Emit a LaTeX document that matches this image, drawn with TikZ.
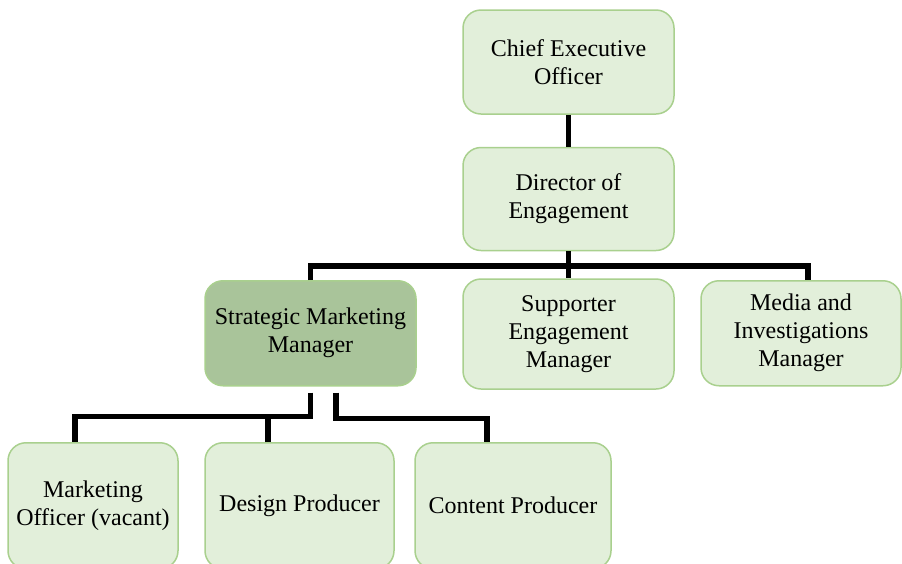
\documentclass[tikz,border=0pt]{standalone}
\usepackage{fontspec}
\setmainfont{Liberation Serif}
\usepackage{xcolor}
\usepackage{tikz}
\usetikzlibrary{positioning}

\definecolor{postfill}{HTML}{E2EFDA}
\definecolor{postdraw}{HTML}{A9D08E}
\definecolor{leadfill}{HTML}{A9C49A}

\tikzset{
    post/.style={rectangle, draw=postdraw, line width=1.5pt, fill=postfill, rounded corners=18pt,
        align=center, inner sep=4pt, font=\fontsize{24}{28}\selectfont},
    lead/.style={post, fill=leadfill},
    link/.style={line width=5.5pt, black},
}

\begin{document}
\begin{tikzpicture}[x=1pt, y=-1pt]
    \path[use as bounding box] (0,0) rectangle (902,563);
    \clip (0,0) rectangle (902,563);

    \node (ceo) [post, minimum width=211pt, minimum height=104pt] at (568.5,62) {Chief Executive\\Officer};
    \node (director) [post, minimum width=211pt, minimum height=103pt, below=32pt of ceo] {Director of\\Engagement};
    \node (supporter) [post, minimum width=211pt, minimum height=110pt, below=27pt of director] {Supporter\\Engagement\\Manager};
    \node (strategic) [lead, minimum width=211pt, minimum height=105pt, anchor=north] at (310.5,280) {Strategic Marketing\\Manager};
    \node (media) [post, minimum width=200pt, minimum height=105pt, anchor=north] at (801,280) {Media and\\Investigations\\Manager};

    \node (officer) [post, minimum width=170pt, minimum height=126pt, anchor=north] at (93,442) {Marketing\\Officer (vacant)};
    \node (design) [post, minimum width=189pt, minimum height=126pt, anchor=north] at (299.5,442) {Design Producer};
    \node (content) [post, minimum width=196pt, minimum height=126pt, anchor=north] at (513,442) {Content Producer};

    % top of the chart
    \draw[link] (ceo) -- (director);
    \draw[link] (director.south) -- (supporter.north);
    \draw[link] (strategic.north) -- ++(0,-14) -| ([xshift=7pt]media.north);

    % marketing team
    \draw[link] ([yshift=-6pt]strategic.south) -- ++(0,24) -| ([xshift=-18pt]officer.north);
    \draw[link] ([xshift=-31.5pt]design.north) -- ++(0,-26);
    \draw[link] ([xshift=25.5pt,yshift=-6pt]strategic.south) -- ++(0,26) -| ([xshift=-26pt]content.north);
\end{tikzpicture}
\end{document}
